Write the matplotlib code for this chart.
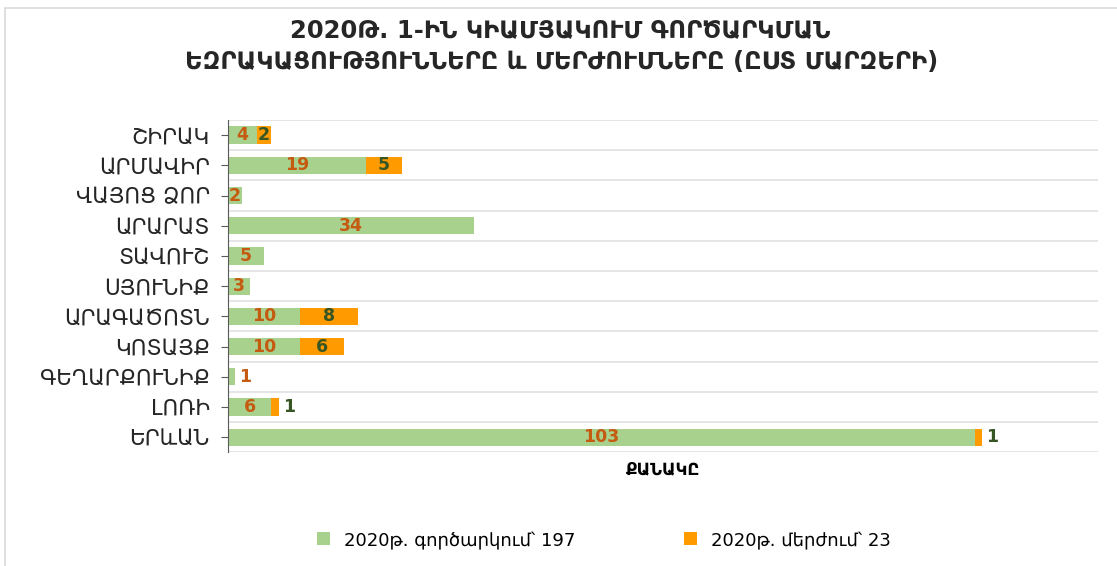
import matplotlib.pyplot as plt
from matplotlib.patches import Rectangle

# Data
regions = ["ՇԻՐԱԿ", "ԱՐՄԱՎԻՐ", "ՎԱՅՈՑ ՁՈՐ", "ԱՐԱՐԱՏ", "ՏԱՎՈՒՇ", "ՍՅՈՒՆԻՔ",
           "ԱՐԱԳԱԾՈՏՆ", "ԿՈՏԱՅՔ", "ԳԵՂԱՐՔՈՒՆԻՔ", "ԼՈՌԻ", "ԵՐևԱՆ"]
launched = [4, 19, 2, 34, 5, 3, 10, 10, 1, 6, 103]
rejected = [2, 5, 0, 0, 0, 0, 8, 6, 0, 1, 1]
legend_labels = ["2020թ. գործարկում՝ 197", "2020թ. մերժում՝ 23"]
title_lines = ["2020Թ. 1-ԻՆ ԿԻԱՄՅԱԿՈՒՄ ԳՈՐԾԱՐԿՄԱՆ",
               "ԵԶՐԱԿԱՑՈՒԹՅՈՒՆՆԵՐԸ և ՄԵՐԺՈՒՄՆԵՐԸ (ԸՍՏ ՄԱՐԶԵՐԻ)"]
x_label = "ՔԱՆԱԿԸ"

green = "#A9D18E"
orange = "#FF9B00"
green_text = "#C55A11"
orange_text = "#375623"

plt.rcParams.update({"font.family": "DejaVu Sans"})

fig = plt.figure(figsize=(11.17, 5.66), dpi=100)
ax = fig.add_axes([0.204, 0.201, 0.779, 0.587])

# Chart frame
fig.patches.append(Rectangle((5 / 1117, -0.05), 1.1, 1 - 8 / 566 + 0.05,
                             transform=fig.transFigure, fill=False,
                             edgecolor="#D9D9D9", linewidth=1.2))

pos = list(range(len(regions)))
bars1 = ax.barh(pos, launched, height=0.57, color=green, label=legend_labels[0])
bars2 = ax.barh(pos, rejected, left=launched, height=0.57, color=orange, label=legend_labels[1])

# Data labels
for bars, vals, col in [(bars1, launched, green_text), (bars2, rejected, orange_text)]:
    for bar, v in zip(bars, vals):
        if v == 0:
            continue
        y = bar.get_y() + bar.get_height() / 2
        if v <= 1:
            ax.annotate(str(v), (bar.get_x() + bar.get_width(), y), xytext=(3, 0),
                        textcoords="offset points", ha="left", va="center",
                        fontsize=12.5, fontweight="bold", color=col)
        else:
            ax.text(bar.get_x() + bar.get_width() / 2, y, str(v), ha="center", va="center",
                    fontsize=12.5, fontweight="bold", color=col)

ax.set_xlim(0, 120)
ax.set_ylim(len(regions) - 0.5, -0.5)
ax.set_yticks(pos)
ax.set_yticklabels(regions, fontsize=15.5)
ax.set_xticks([])

# Horizontal gridlines at category boundaries
for b in range(len(regions) + 1):
    ax.axhline(b - 0.5, color="#E3E3E3", linewidth=1.3, zorder=0)

for s in ["top", "right", "bottom"]:
    ax.spines[s].set_visible(False)
ax.spines["left"].set_color("#595959")
ax.tick_params(axis="y", length=5, color="#595959", pad=8, labelcolor="#262626")

ax.set_xlabel(x_label, fontsize=12, fontweight="bold", labelpad=6)

fig.text(0.502, 1 - 30 / 566, title_lines[0], ha="center", va="center",
         fontsize=17.5, fontweight="bold", color="#262626")
fig.text(0.503, 1 - 62 / 566, title_lines[1], ha="center", va="center",
         fontsize=17.5, fontweight="bold", color="#262626")

fig.legend(loc="center", bbox_to_anchor=(604 / 1117, 1 - 540 / 566), ncol=2, frameon=False,
           fontsize=13, handlelength=0.7, handleheight=0.7, columnspacing=6)

plt.savefig("out.png", dpi=100)
